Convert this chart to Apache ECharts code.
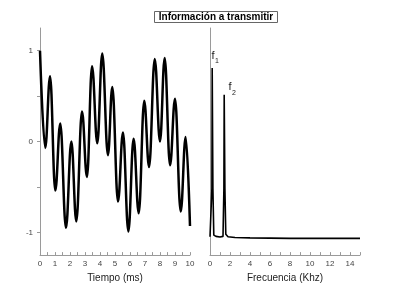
<!DOCTYPE html>
<html>
<head>
<meta charset="utf-8">
<script src="https://cdn.jsdelivr.net/npm/echarts@6/dist/echarts.min.js"></script>
<style>
html,body{margin:0;padding:0;background:#fff;}
#c{width:400px;height:288px;}
</style>
</head>
<body>
<div id="c"></div>
<script>
// Time-domain signal (extrema)
var timeMs = [0, 0.35, 0.67, 1.02, 1.35, 1.73, 2.09, 2.42, 2.80, 3.13, 3.47, 3.82, 4.15, 4.53, 4.82, 5.20, 5.53, 5.89, 6.24, 6.58, 6.95, 7.27, 7.65, 8.00, 8.31, 8.67, 9.00, 9.38, 9.71, 10.0];
var signal = [1.0, -0.07, 0.72, -0.54, 0.20, -0.95, 0.0, -0.88, 0.33, -0.39, 0.83, -0.02, 0.97, -0.15, 0.60, -0.66, 0.10, -0.99, 0.03, -0.79, 0.45, -0.28, 0.91, 0.0, 0.92, -0.26, 0.47, -0.77, 0.05, -0.93];

// Spectrum
var freqKhz = [0, 0.1, 0.19, 0.22, 0.26, 0.29, 0.38, 0.6, 1.0, 1.3, 1.39, 1.42, 1.46, 1.49, 1.58, 1.8, 2.5, 4, 8, 15];
var spectrum = [0.01, 0.02, 0.3, 1.02, 1.02, 0.3, 0.02, 0.012, 0.008, 0.012, 0.3, 0.86, 0.86, 0.3, 0.025, 0.01, 0.005, 0.003, 0, 0];

// Tick labels
var timeLabels = [0,1,2,3,4,5,6,7,8,9,10];
var timeTicks = [0,0.5,1,1.5,2,2.5,3,3.5,4,4.5,5,5.5,6,6.5,7,7.5,8,8.5,9,9.5,10];
var ampLabels = [-1, 0, 1];
var ampTicks = [-1, -0.5, 0, 0.5, 1];
var freqLabels = [0,2,4,6,8,10,12,14];
var freqTicks = [0,1,2,3,4,5,6,7,8,9,10,11,12,13,14,15];

var titleText = 'Información a transmitir';

var axisGray = '#9a9a9a';
var labelColor = '#444';
var font = '"Liberation Sans", Arial, sans-serif';

function pairs(xs, ys){ return xs.map(function(x,i){ return [x, ys[i]]; }); }

var chart = echarts.init(document.getElementById('c'), null, {renderer:'canvas'});
chart.setOption({
  backgroundColor: '#fff',
  animation: false,
  textStyle: {fontFamily: font},
  grid: [
    {left: 40, top: 28, width: 150, height: 231},
    {left: 210, top: 28, width: 150, height: 231}
  ],
  xAxis: [
    {
      gridIndex: 0, type: 'value', min: 0, max: 10,
      name: 'Tiempo (ms)', nameLocation: 'middle', nameGap: 14,
      nameTextStyle: {fontSize: 10, color: '#222', fontFamily: font},
      axisLine: {onZero: false, lineStyle: {color: axisGray, width: 1}},
      axisTick: {inside: true, length: 3, customValues: timeTicks, lineStyle: {color: axisGray}},
      axisLabel: {customValues: timeLabels, fontSize: 8, color: labelColor, margin: 5, fontFamily: font},
      splitLine: {show: false}
    },
    {
      gridIndex: 1, type: 'value', min: 0, max: 15,
      name: 'Frecuencia (Khz)', nameLocation: 'middle', nameGap: 14,
      nameTextStyle: {fontSize: 10, color: '#222', fontFamily: font},
      axisLine: {onZero: false, lineStyle: {color: axisGray, width: 1}},
      axisTick: {inside: true, length: 3, customValues: freqTicks, lineStyle: {color: axisGray}},
      axisLabel: {customValues: freqLabels, fontSize: 8, color: labelColor, margin: 5, fontFamily: font},
      splitLine: {show: false}
    }
  ],
  yAxis: [
    {
      gridIndex: 0, type: 'value', min: -1.25, max: 1.25,
      axisLine: {show: true, onZero: false, lineStyle: {color: axisGray, width: 1}},
      axisTick: {show: true, inside: false, length: 3, customValues: ampTicks, lineStyle: {color: axisGray}},
      axisLabel: {customValues: ampLabels, fontSize: 8, color: labelColor, margin: 7, fontFamily: font},
      splitLine: {show: false}
    },
    {
      gridIndex: 1, type: 'value', min: -0.1, max: 1.26,
      axisLine: {show: true, onZero: false, lineStyle: {color: axisGray, width: 1}},
      axisTick: {show: false},
      axisLabel: {show: false},
      splitLine: {show: false}
    }
  ],
  series: [
    {
      type: 'line', xAxisIndex: 0, yAxisIndex: 0,
      data: pairs(timeMs, signal),
      smooth: 0.4, smoothMonotone: 'x',
      showSymbol: false, symbol: 'none',
      lineStyle: {color: '#000', width: 2.5},
      clip: true
    },
    {
      type: 'line', xAxisIndex: 1, yAxisIndex: 1,
      data: pairs(freqKhz, spectrum),
      showSymbol: false, symbol: 'none',
      lineStyle: {color: '#000', width: 1.6}
    }
  ],
  graphic: [
    {type: 'rect', shape: {x: 154.5, y: 11.5, width: 123, height: 11}, style: {fill: '#fff', stroke: '#666', lineWidth: 1}},
    {type: 'text', x: 216, y: 17.5, style: {text: titleText, font: 'bold 10px ' + font, fill: '#000', align: 'center', verticalAlign: 'middle'}},
    {type: 'text', x: 211.5, y: 50, style: {text: 'f', font: '11px ' + font, fill: '#222', verticalAlign: 'top'}},
    {type: 'text', x: 215, y: 57.5, style: {text: '1', font: '7px ' + font, fill: '#222', verticalAlign: 'top'}},
    {type: 'text', x: 228.5, y: 81, style: {text: 'f', font: '11px ' + font, fill: '#222', verticalAlign: 'top'}},
    {type: 'text', x: 232, y: 89.5, style: {text: '2', font: '7px ' + font, fill: '#222', verticalAlign: 'top'}}
  ]
});
</script>
</body>
</html>
